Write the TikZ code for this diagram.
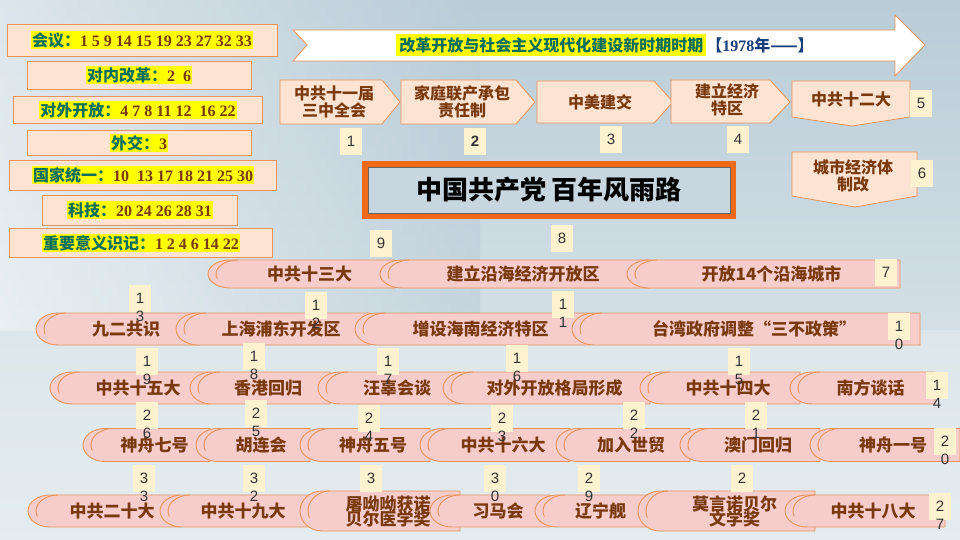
\documentclass[tikz,border=0pt]{standalone}
\usepackage{fontspec}
\setmainfont{Noto Sans CJK SC}
\newfontfamily\numfont{Liberation Sans}
\newfontfamily\digfont{Liberation Serif}
\definecolor{bgA}{HTML}{E4ECEF}
\definecolor{bgB}{HTML}{B9CCD7}
\definecolor{peach}{HTML}{FDE3D2}
\definecolor{peachline}{HTML}{E8935A}
\definecolor{pinkf}{HTML}{F7CDCB}
\definecolor{brownt}{HTML}{7A3A10}
\definecolor{tealt}{HTML}{0A6E5E}
\definecolor{hl}{HTML}{FFFF00}
\definecolor{numf}{HTML}{FDF2CF}
\definecolor{frame}{HTML}{F06A1A}
\definecolor{navy}{HTML}{1A3E7A}
\tikzset{
  legbox/.style={draw=peachline,fill=peach,line width=0.8pt},
  hltext/.style={fill=hl,inner sep=1pt,font=\bfseries\fontsize{16}{18}\selectfont,text=brownt},
  chev/.style={draw=peachline,fill=peach,line width=0.8pt},
  chevtext/.style={font=\bfseries\fontsize{16}{17}\selectfont,text=brownt,align=center},
  scrfill/.style={fill=pinkf,draw=peachline,line width=0.9pt},
  scrtext/.style={font=\bfseries\fontsize{17}{18}\selectfont,text=brownt,align=center},
  numbox/.style={fill=numf,minimum width=22pt,minimum height=27pt,inner sep=0pt,anchor=north,font=\numfont\fontsize{15}{16}\selectfont,text=black!80,text depth=0pt},
  numtwo/.style={inner sep=0pt,font=\numfont\fontsize{15}{16}\selectfont,text=black!80},
}
\newcommand\myscroll[6]{%
  \pgfmathsetmacro\yA{#3-#6/2}\pgfmathsetmacro\yB{#3+#6/2}\pgfmathsetmacro\ry{#6/2}%
  \path[scrfill] (#2,\yB) -- (#1+22,\yB) arc[start angle=90,end angle=270,x radius=22,y radius=\ry] -- (#2,\yA) -- cycle;
  \draw[peachline,line width=0.9pt] (#1+30,\yA) arc[start angle=270,end angle=160,x radius=22,y radius=\ry];
  \node[scrtext] (#5) at ({(#1+#2)/2+8},#3) {#4};}
\newcommand\numb[5]{%
  \node[numbox] (#5) at (#1,#2) {#3};
  \if\relax\detokenize{#4}\relax\else
  \node[numtwo] (#5b) at (#1,#2+31) {#4};\fi}
\newcommand\dg[1]{{\digfont #1}}
\begin{document}
\begin{tikzpicture}[x=1pt,y=-1pt]
\useasboundingbox (0,0) rectangle (960,540);
\shade[top color=bgB,bottom color=bgA] (0,0) rectangle (960,540);
\shade[left color=white,right color=bgB,opacity=0.5] (0,0) rectangle (480,330);
\fill[bgA,opacity=0.6] (0,330) rectangle (960,540);
% legend
\node[legbox,minimum width=270pt,minimum height=32pt] (L1) at (142,40) {};
\node[hltext] at (L1) {\textcolor{tealt}{会议：}\dg{1 5 9 14 15 19 23 27 32 33}};
\node[legbox,minimum width=224pt,minimum height=28pt] (L2) at (139,75) {};
\node[hltext] at (L2) {\textcolor{tealt}{对内改革：}\dg{2\ \ 6}};
\node[legbox,minimum width=249pt,minimum height=27pt] (L3) at (138,110) {};
\node[hltext] at (L3) {\textcolor{tealt}{对外开放：}\dg{4 7 8 11 12\ \ 16 22}};
\node[legbox,minimum width=224pt,minimum height=25pt] (L4) at (139,143) {};
\node[hltext] at (L4) {\textcolor{tealt}{外交：}\dg{3}};
\node[legbox,minimum width=267pt,minimum height=30pt] (L5) at (143,175) {};
\node[hltext] at (L5) {\textcolor{tealt}{国家统一：}\dg{10\ \ 13 17 18 21 25 30}};
\node[legbox,minimum width=195pt,minimum height=30pt] (L6) at (140,210) {};
\node[hltext] at (L6) {\textcolor{tealt}{科技：}\dg{20 24 26 28 31}};
\node[legbox,minimum width=263pt,minimum height=29pt] (L7) at (141,243) {};
\node[hltext] at (L7) {\textcolor{tealt}{重要意义识记：}\dg{1 2 4 6 14 22}};
% top arrow
\path[draw=peachline,fill=white,line width=0.8pt] (293,30) -- (895,30) -- (895,15) -- (925,45) -- (895,76) -- (895,61) -- (293,61) -- (307,45) -- cycle;
\node[inner sep=0pt,font=\bfseries\fontsize{16}{18}\selectfont] (era) at (605,45) {\colorbox{hl}{\textcolor{tealt}{改革开放与社会主义现代化建设新时期时期}}\textcolor{navy}{【\dg{1978}年——】}};
% chevrons
\path[chev] (280,80) -- (382,80) -- (400,102) -- (382,124) -- (280,124) -- cycle;
\node[chevtext] (c1) at (334,102) {中共十一届\\三中全会};
\path[chev] (401,80) -- (516,80) -- (535,102) -- (516,124) -- (401,124) -- cycle;
\node[chevtext] (c2) at (462,102) {家庭联产承包\\责任制};
\path[chev] (537,81) -- (654,81) -- (673,102) -- (654,123) -- (537,123) -- cycle;
\node[chevtext] (c3) at (600,102) {中美建交};
\path[chev] (671,80) -- (770,80) -- (790,102) -- (770,123) -- (671,123) -- cycle;
\node[chevtext] (c4) at (727,100) {建立经济\\特区};
\path[chev] (792,81) -- (910,81) -- (910,117) -- (852,126) -- (792,117) -- cycle;
\node[chevtext] (c5) at (851,99) {中共十二大};
\path[chev] (792,152) -- (917,152) -- (917,196) -- (855,207) -- (792,196) -- cycle;
\node[chevtext] (c6) at (853,176) {城市经济体\\制改};
\numb{351}{128}{1}{}{n1}
\numb{475}{128}{\textbf{2}}{}{n2}
\numb{611}{126}{3}{}{n3}
\numb{738}{126}{4}{}{n4}
\numb{921}{90}{5}{}{n5}
\numb{922}{160}{6}{}{n6}
% title
\node[draw=frame,line width=6pt,fill=bgB!80!white,minimum width=368pt,minimum height=52pt] (title) at (549,190) {};
\draw[black!60,line width=0.6pt] (title.south west) ++(6,-6) rectangle ([shift={(-6,6)}]title.north east);
\node[font=\bfseries\fontsize{26}{28}\selectfont,text=black] at (title) {中国共产党 百年风雨路};
\numb{381}{230}{9}{}{n9}
\numb{562}{225}{8}{}{n8}
% row A
\myscroll{208}{395}{274}{中共十三大}{s13}{28}
\myscroll{380}{650}{274}{建立沿海经济开放区}{s8}{28}
\myscroll{627}{900}{274}{开放14个沿海城市}{s7}{28}
\numb{886}{259}{7}{}{n7}
% row B
\myscroll{36}{200}{329}{九二共识}{s13b}{32}
\myscroll{176}{370}{329}{上海浦东开发区}{s12}{32}
\myscroll{355}{590}{329}{增设海南经济特区}{s11}{32}
\myscroll{572}{920}{329}{台湾政府调整“三不政策”}{s10}{32}
\numb{140}{285}{1}{3}{n13}
\numb{316}{292}{1}{2}{n12}
\numb{563}{291}{1}{1}{n11}
\numb{899}{313}{1}{0}{n10}
% row C
\myscroll{50}{210}{388}{中共十五大}{s19}{32}
\myscroll{190}{330}{388}{香港回归}{s18}{32}
\myscroll{318}{460}{388}{汪辜会谈}{s17}{32}
\myscroll{443}{650}{388}{对外开放格局形成}{s16}{32}
\myscroll{640}{800}{388}{中共十四大}{s15}{32}
\myscroll{790}{935}{388}{南方谈话}{s14}{32}
\numb{147}{348}{1}{9}{n19}
\numb{254}{343}{1}{8}{n18}
\numb{388}{348}{1}{7}{n17}
\numb{517}{345}{1}{6}{n16}
\numb{739}{348}{1}{5}{n15}
\numb{937}{372}{1}{4}{n14}
% row D
\myscroll{83}{210}{445}{神舟七号}{s26}{33}
\myscroll{196}{310}{445}{胡连会}{s25}{33}
\myscroll{300}{430}{445}{神舟五号}{s24}{33}
\myscroll{420}{570}{445}{中共十六大}{s23}{33}
\myscroll{556}{690}{445}{加入世贸}{s22}{33}
\myscroll{680}{820}{445}{澳门回归}{s21}{33}
\myscroll{810}{960}{445}{神舟一号}{s20}{33}
\numb{147}{402}{2}{6}{n26}
\numb{256}{400}{2}{5}{n25}
\numb{369}{405}{2}{4}{n24}
\numb{502}{405}{2}{3}{n23}
\numb{634}{402}{2}{2}{n22}
\numb{756}{402}{2}{1}{n21}
\numb{945}{428}{2}{0}{n20}
% row E
\myscroll{28}{180}{511}{中共二十大}{s33}{32}
\myscroll{160}{310}{511}{中共十九大}{s32}{32}
\myscroll{300}{460}{511}{屠呦呦获诺\\[-3pt]贝尔医学奖}{s31}{40}
\myscroll{430}{550}{511}{习马会}{s30}{32}
\myscroll{535}{650}{511}{辽宁舰}{s29}{32}
\myscroll{638}{815}{511}{莫言诺贝尔\\[-3pt]文学奖}{s28}{40}
\myscroll{785}{945}{511}{中共十八大}{s27}{32}
\numb{144}{465}{3}{3}{n33}
\numb{254}{465}{3}{2}{n32}
\numb{371}{465}{3}{}{n31}
\numb{495}{465}{3}{0}{n30}
\numb{589}{465}{2}{9}{n29}
\numb{742}{465}{2}{}{n28}
\numb{940}{493}{2}{7}{n27}
\end{tikzpicture}
\end{document}
